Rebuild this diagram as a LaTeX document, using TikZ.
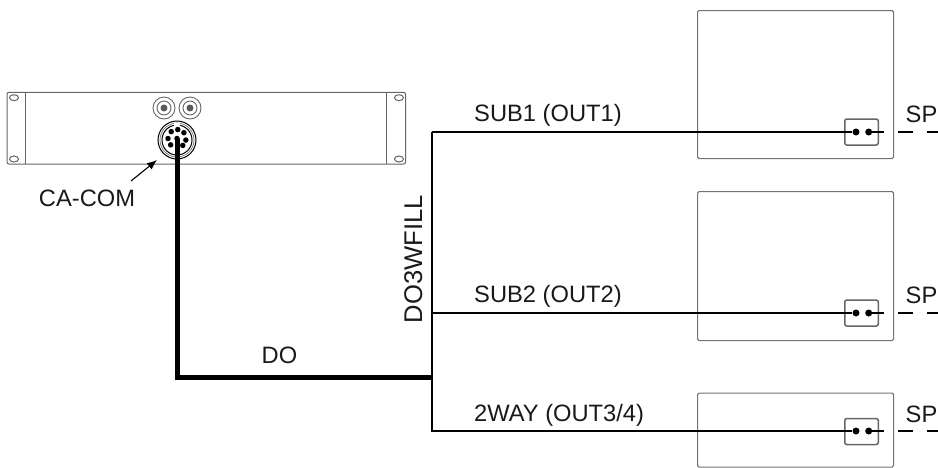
\documentclass[tikz,border=0pt]{standalone}
\usepackage{fontspec}
\setmainfont{Liberation Sans}
\usetikzlibrary{arrows.meta,calc}
\tikzset{
  lbl/.style={inner sep=0pt,font=\fontsize{23.7}{26}\selectfont,text=black!90},
  spk/.style={draw=black!55,line width=1.1pt,rounded corners=1.5pt,minimum width=196pt,inner sep=0pt,anchor=north west},
  term/.style={draw=black!60,line width=1.5pt,rounded corners=2pt,minimum width=33.5pt,minimum height=26pt,inner sep=0pt},
  dotn/.style={circle,fill=black,minimum size=7pt,inner sep=0pt},
  wire/.style={line width=2pt,black},
  thick wire/.style={line width=5pt,black},
  rack/.style={draw=black!60,line width=1pt},
  pin/.style={circle,fill=black,minimum size=5.5pt,inner sep=0pt},
}
\begin{document}
\begin{tikzpicture}[x=1pt,y=-1pt]
\useasboundingbox (0,0) rectangle (938,467);
% speakers
\node[spk,minimum height=148pt] (b1) at (697,10) {};
\node[spk,minimum height=149pt] (b2) at (697,191) {};
\node[spk,minimum height=74pt] (b3) at (697,392.5) {};
\node[term] (t1) at (861.5,132) {};
\node[term] (t2) at (861.5,313) {};
\node[term] (t3) at (861.5,431.5) {};
\foreach \i/\y in {1/132,2/313,3/431}{
  \node[dotn] (a\i) at (856,\y) {};
  \node[dotn] (c\i) at (868.7,\y) {};
  \coordinate (j\i) at (432,\y);
  \coordinate (s\i) at (884,\y);
  \coordinate (e\i) at (938,\y);
  \draw[wire] (j\i) -- (a\i);
  \draw[wire] (c\i) -- (s\i);
  \draw[wire,dash pattern=on 14.5pt off 14.5pt] (898.3,\y) -- (e\i);
}
% rack
\draw[rack,rounded corners=2pt] (7,92.3) rectangle (405.5,164);
\draw[rack] (25,92.3) -- (25,164) (386.7,92.3) -- (386.7,164);
\foreach \x/\y in {14/97.7,14/159,399/97.7,399/159}
  \draw[rack] (\x,\y) ellipse (4.5pt and 3pt);
\foreach \n/\x in {bl/164,br/190}{
  \node[circle,draw=black!60,line width=.9pt,minimum size=22pt,inner sep=0pt] (\n) at (\x,108) {};
  \draw[black!60,line width=.9pt] (\x,108) circle (7pt);
  \fill[black!65] (\x,108) circle (3.5pt);
}
\node[circle,draw=black,line width=1pt,fill=white,minimum size=38pt,inner sep=0pt] (con) at (177,140) {};
\draw[black,line width=1pt] (con.center) circle (15pt);
\draw[black!55,line width=.7pt] (con.center) circle (17pt);
\fill[white] (174,123) rectangle (180,127.5);
\coordinate (pc) at (177,138.5);
\foreach \a in {85,40,-10,-50,130,180,225}
  \node[pin] at ($(pc)+(\a:9pt)$) {};
\node[pin] (ctr) at (pc) {};
\coordinate (corner) at (177,377.3);
\coordinate (tap) at (432,377.3);
\draw[thick wire,line join=miter] (ctr.center) -- (corner) -- (tap);
\draw[wire,line join=miter] (j1) -- (j3) -- ++(-1.5,0);
% label arrow
\node[lbl,anchor=base] (ca) at (87,206) {CA-COM};
\coordinate (tip) at (157,160);
\draw[-{Latex[length=10pt,width=8pt]},line width=1.1pt,black] (131,181) -- (tip);
\node[lbl,anchor=base west] at (474,121) {SUB1 (OUT1)};
\node[lbl,anchor=base west] at (474,302) {SUB2 (OUT2)};
\node[lbl,anchor=base west] at (474,421) {2WAY (OUT3/4)};
\node[lbl,anchor=base] at (279.5,363) {DO};
\node[lbl,anchor=base,rotate=90,font=\fontsize{25.6}{28}\selectfont] at (422,259) {DO3WFILL};
\foreach \y in {122,303,422}
  \node[lbl,anchor=base] at (921.5,\y) {SP};
\end{tikzpicture}
\end{document}
